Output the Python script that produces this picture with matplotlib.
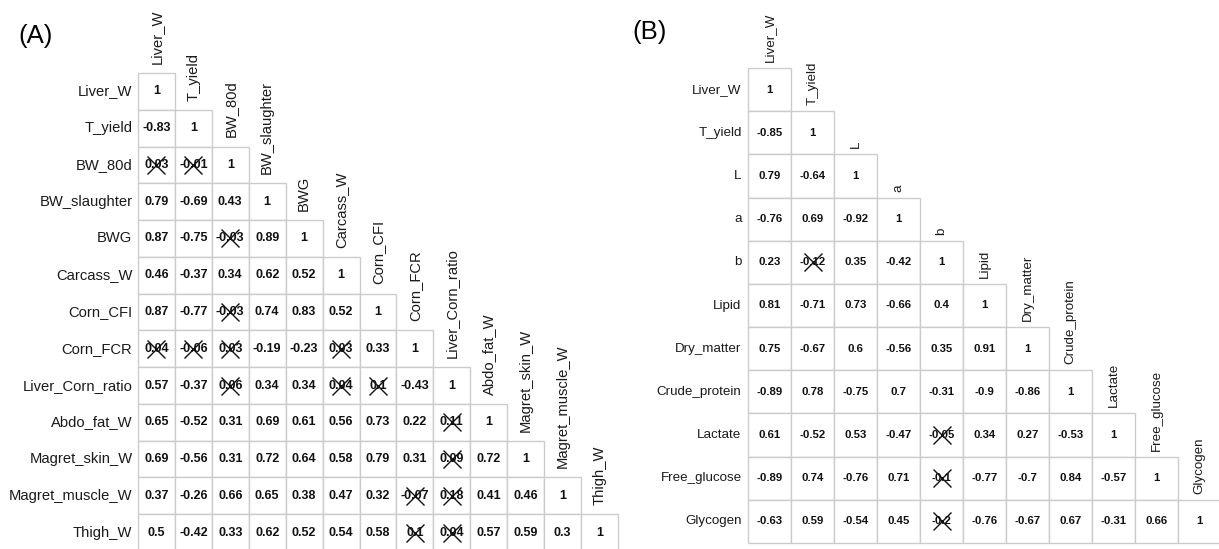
import numpy as np
import matplotlib
matplotlib.use("Agg")
import matplotlib.pyplot as plt
from matplotlib.patches import Rectangle

plt.rcParams['font.family'] = ['Liberation Sans', 'DejaVu Sans']

# ---- data, panel A (lower triangle, row by row)
vars_a = ['Liver_W', 'T_yield', 'BW_80d', 'BW_slaughter', 'BWG', 'Carcass_W',
          'Corn_CFI', 'Corn_FCR', 'Liver_Corn_ratio', 'Abdo_fat_W',
          'Magret_skin_W', 'Magret_muscle_W', 'Thigh_W']
corr_a = [
    [1],
    [-0.83, 1],
    [0.03, -0.01, 1],
    [0.79, -0.69, 0.43, 1],
    [0.87, -0.75, -0.03, 0.89, 1],
    [0.46, -0.37, 0.34, 0.62, 0.52, 1],
    [0.87, -0.77, -0.03, 0.74, 0.83, 0.52, 1],
    [0.04, -0.06, 0.03, -0.19, -0.23, 0.03, 0.33, 1],
    [0.57, -0.37, 0.06, 0.34, 0.34, 0.04, 0.1, -0.43, 1],
    [0.65, -0.52, 0.31, 0.69, 0.61, 0.56, 0.73, 0.22, 0.11, 1],
    [0.69, -0.56, 0.31, 0.72, 0.64, 0.58, 0.79, 0.31, 0.09, 0.72, 1],
    [0.37, -0.26, 0.66, 0.65, 0.38, 0.47, 0.32, -0.07, 0.18, 0.41, 0.46, 1],
    [0.5, -0.42, 0.33, 0.62, 0.52, 0.54, 0.58, 0.1, 0.04, 0.57, 0.59, 0.3, 1],
]
# non significant cells (row, col) -> crossed out
ns_a = [(2, 0), (2, 1), (4, 2), (6, 2), (7, 0), (7, 1), (7, 2), (7, 5),
        (8, 2), (8, 5), (8, 6), (9, 8), (10, 8), (11, 7), (11, 8),
        (12, 7), (12, 8)]

# ---- data, panel B
vars_b = ['Liver_W', 'T_yield', 'L', 'a', 'b', 'Lipid', 'Dry_matter',
          'Crude_protein', 'Lactate', 'Free_glucose', 'Glycogen']
corr_b = [
    [1],
    [-0.85, 1],
    [0.79, -0.64, 1],
    [-0.76, 0.69, -0.92, 1],
    [0.23, -0.12, 0.35, -0.42, 1],
    [0.81, -0.71, 0.73, -0.66, 0.4, 1],
    [0.75, -0.67, 0.6, -0.56, 0.35, 0.91, 1],
    [-0.89, 0.78, -0.75, 0.7, -0.31, -0.9, -0.86, 1],
    [0.61, -0.52, 0.53, -0.47, -0.05, 0.34, 0.27, -0.53, 1],
    [-0.89, 0.74, -0.76, 0.71, -0.1, -0.77, -0.7, 0.84, -0.57, 1],
    [-0.63, 0.59, -0.54, 0.45, -0.2, -0.76, -0.67, 0.67, -0.31, 0.66, 1],
]
ns_b = [(4, 1), (8, 4), (9, 4), (10, 4)]


def fmt(v):
    # R style number printing: 0.5 not 0.50, 1 not 1.00
    if v == 1:
        return '1'
    return ('%.2f' % v).rstrip('0').rstrip('.')


# draw one triangular correlation table
def draw_panel(ax, names, corr, ns, lab_size, val_size, lab_gap):
    n = len(names)
    ax.set_xlim(0, n)
    ax.set_ylim(n, 0)
    ax.axis('off')
    for i in range(n):
        for j in range(i + 1):
            ax.add_patch(Rectangle((j, i), 1, 1, facecolor='white',
                                   edgecolor='#cccccc', lw=1.0, clip_on=False))
            ax.text(j + 0.5, i + 0.5, fmt(corr[i][j]), ha='center', va='center',
                    fontsize=val_size, fontweight='bold', color='#111111')
    for (i, j) in ns:
        ax.plot(j + 0.5, i + 0.5, marker='x', markersize=13, mew=1.0,
                color='#111111', clip_on=False)
    # row labels on the left, column labels standing above the diagonal
    for k, name in enumerate(names):
        ax.text(-0.15, k + 0.5, name, ha='right', va='center',
                fontsize=lab_size, color='#1a1a1a')
        ax.text(k + 0.5, k - lab_gap, name, ha='center', va='bottom',
                rotation=90, fontsize=lab_size, color='#1a1a1a')


fig = plt.figure(figsize=(12.19, 5.49), dpi=100)
W, H = 1219.0, 549.0

# panel A: cells from x 138..618 px, y 73..551 px
ax_a = fig.add_axes([138 / W, 1 - 551 / H, 480 / W, 478 / H])
draw_panel(ax_a, vars_a, corr_a, ns_a, 10.6, 9.0, 0.25)

# panel B: cells from x 748..1221 px, y 68..543 px
ax_b = fig.add_axes([748 / W, 1 - 543 / H, 473 / W, 475 / H])
draw_panel(ax_b, vars_b, corr_b, ns_b, 9.6, 8.2, 0.14)

fig.text(18 / W, 1 - 36 / H, '(A)', fontsize=18.5, va='center', ha='left')
fig.text(632 / W, 1 - 32 / H, '(B)', fontsize=18.5, va='center', ha='left')

fig.savefig('out.png', dpi=100, facecolor='white')
